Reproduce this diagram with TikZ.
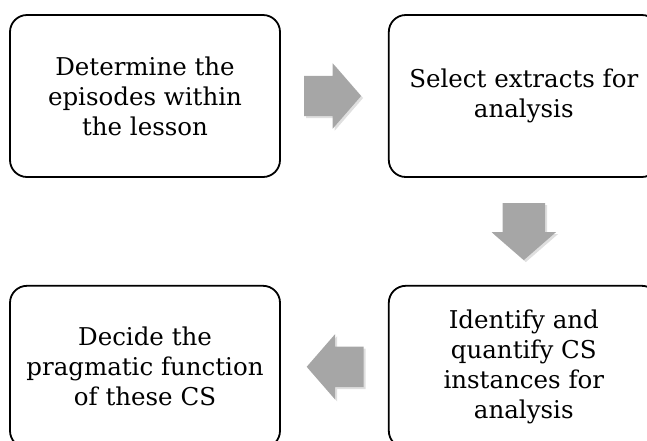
\documentclass[tikz,border=0pt]{standalone}
\usepackage{fontspec}
\setmainfont{DejaVu Serif}
\usetikzlibrary{
		positioning,
		shapes.arrows,
		shadows
	}
\definecolor{arrowgray}{RGB}{166,166,166}

\begin{document}
\begin{tikzpicture}[x=1pt,y=-1pt,node distance=107pt]
	\tikzstyle{stage}=[draw, rounded corners=17pt, line width=1.8pt, minimum width=270pt, minimum height=162pt, inner sep=0pt, align=center, font=\fontsize{24.5}{30}\selectfont]
	\tikzstyle{flow}=[single arrow, fill=arrowgray, draw=none, inner xsep=0pt, inner ysep=20pt, minimum height=57pt, single arrow head extend=12.5pt, single arrow tip angle=98, drop shadow={opacity=0.25, shadow xshift=2pt, shadow yshift=-2pt}]
	\tikzstyle{flowdown}=[flow, shape border rotate=270, inner xsep=21pt, inner ysep=0pt, single arrow head extend=11pt]
	% Frame
	\useasboundingbox (0,0) rectangle (647,440);
	\clip (0,0) rectangle (647,440);
	% Stages
	\node[stage] (det) at (145,96)		{Determine the\\episodes within\\the lesson};
	\node[stage] (sel) [right = of det]	{Select extracts for\\analysis};
	\node[stage] (idt) [below = of sel]	{Identify and\\quantify CS\\instances for\\analysis};
	\node[stage] (dec) [left = of idt]	{Decide the\\pragmatic function\\of these CS};
	% Block arrows
	\node[flow] (a1) [right = 23pt of det] {};
	\node[flowdown] (a2) [below = 25pt of sel] {};
	\node[flow, shape border rotate=180] (a3) [left = 24pt of idt] {};
\end{tikzpicture}
\end{document}
